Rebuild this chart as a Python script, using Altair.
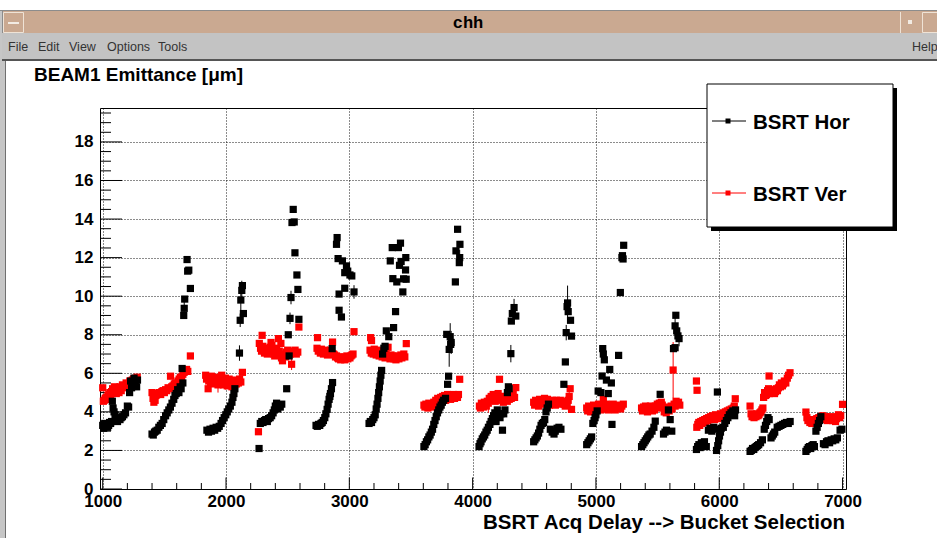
import altair as alt
import pandas as pd

# ---------------- data ----------------
# BSRT Hor (black), grouped by bunch train
hor_points = [
    # train 1
    (1000,3.3),(1008,3.15),(1016,3.4),(1024,3.25),(1032,3.35),(1040,3.2),(1048,3.3),(1056,3.45),(1064,3.4),(1072,3.5),
    (1078,4.55),(1084,4.2),(1092,4.0),(1100,3.85),(1120,3.5),(1130,3.65),(1140,3.6),(1150,3.7),(1160,3.75),(1172,3.85),
    (1185,3.95),(1200,4.3),(1210,4.25),(1218,5.0),(1226,5.6),(1234,5.25),(1244,5.45),(1254,5.75),(1264,5.5),(1275,5.3),(1282,5.65),
    # train 2
    (1400,2.85),(1410,2.8),(1420,2.95),(1430,3.0),(1442,3.05),(1455,3.2),(1468,3.3),(1482,3.4),(1495,3.6),(1510,3.8),
    (1523,3.95),(1536,4.1),(1549,4.25),(1562,4.45),(1576,4.65),(1586,4.85),(1596,4.95),(1608,5.15),(1618,5.0),(1628,5.3),
    (1636,5.2),(1644,6.25),(1650,5.5),(1657,9.0),(1661,9.37),(1665,9.85),(1684,11.9),(1689,11.3),(1698,11.35),(1711,10.4),
    # train 3
    (1845,3.05),(1858,2.95),(1870,3.1),(1882,3.0),(1895,3.15),(1908,3.05),(1920,3.2),(1932,3.15),(1945,3.25),(1960,3.4),
    (1972,3.55),(1985,3.7),(1998,3.85),(2010,4.0),(2022,4.15),(2035,4.3),(2048,4.5),(2056,4.75),(2064,4.95),(2072,5.2),
    (2109,7.05),(2115,8.75),(2120,9.8),(2128,10.3),(2133,10.55),(2141,9.1),
    # train 4
    (2268,2.1),(2278,3.4),(2290,3.5),(2300,3.45),(2312,3.55),(2322,3.6),(2335,3.5),(2345,3.65),(2358,3.7),(2370,3.8),
    (2382,3.95),(2392,4.1),(2400,4.3),(2410,4.45),(2420,4.15),(2430,4.35),(2440,4.25),(2452,4.4),(2492,5.2),(2505,8.0),
    (2512,6.9),(2519,8.85),(2527,9.93),(2535,13.82),(2545,14.5),(2553,13.85),(2559,12.25),(2575,11.1),(2583,10.35),(2591,8.8),
    # train 5
    (2730,3.3),(2740,3.25),(2750,3.35),(2760,3.3),(2770,3.4),(2780,3.45),(2790,3.55),(2801,3.7),(2810,3.9),(2820,4.13),
    (2828,4.4),(2836,4.65),(2842,4.8),(2847,4.95),(2855,5.2),(2864,5.52),(2861,7.28),(2896,12.69),(2901,13.04),(2909,11.95),
    (2917,9.27),(2917,10.11),(2936,8.92),(2944,11.83),(2963,11.22),(2963,10.41),(2977,11.57),(2987,11.3),(3005,11.1),(3020,11.05),(3038,10.22),
    # train 6
    (3160,3.4),(3170,3.5),(3180,3.45),(3190,3.6),(3200,3.7),(3210,3.85),(3218,4.15),(3225,4.4),(3232,4.7),(3238,5.0),
    (3244,5.3),(3250,5.6),(3256,5.9),(3262,6.15),(3270,7.0),(3280,7.3),(3290,7.4),(3300,8.2),(3320,7.9),(3332,11.83),
    (3348,12.52),(3353,10.91),(3359,8.37),(3375,9.2),(3385,10.74),(3398,12.52),(3407,11.6),(3415,12.75),(3420,11.8),(3434,10.22),
    (3440,10.9),(3456,11.36),(3458,12.0),(3461,10.88),
    # train 7
    (3605,2.2),(3615,2.3),(3625,2.45),(3635,2.55),(3645,2.7),(3655,2.8),(3665,2.95),(3675,3.1),(3685,3.35),(3695,3.55),
    (3705,3.75),(3715,3.95),(3725,4.1),(3735,4.25),(3745,4.35),(3755,4.5),(3765,4.6),(3780,4.7),(3797,5.43),(3805,5.85),
    (3790,8.02),(3810,7.24),(3818,7.9),(3822,7.5),(3826,7.6),(3860,10.74),(3865,12.35),(3878,13.47),(3892,11.74),(3895,12.0),(3897,12.69),
    # train 8
    (4052,2.2),(4060,2.35),(4068,2.45),(4078,2.6),(4088,2.7),(4098,2.8),(4108,2.95),(4118,3.05),(4128,3.2),(4140,3.35),
    (4150,3.5),(4160,3.65),(4170,3.8),(4180,3.95),(4190,3.5),(4200,4.1),(4210,3.85),(4222,3.7),(4230,3.9),(4242,3.05),
    (4252,3.9),(4262,4.1),(4282,5.0),(4290,5.3),(4296,5.2),(4310,7.02),(4314,8.71),(4322,9.1),(4336,9.41),(4350,8.97),
    # train 9
    (4495,2.45),(4505,2.55),(4515,2.65),(4525,2.75),(4535,2.9),(4545,3.1),(4555,3.3),(4565,3.4),(4575,3.45),(4585,3.6),
    (4595,4.0),(4605,4.2),(4615,4.4),(4630,3.1),(4645,2.95),(4660,2.85),(4670,3.0),(4685,3.15),(4700,3.2),(4716,3.1),
    (4740,5.43),(4752,6.59),(4759,8.11),(4766,9.46),(4770,9.65),(4775,9.2),(4794,8.75),(4802,7.93),
    # train 10
    (4925,2.3),(4935,2.4),(4945,2.5),(4955,2.6),(4965,2.7),(4975,3.4),(4985,3.55),(4993,3.7),(5000,3.85),(5010,4.05),
    (5018,5.08),(5040,5.0),(5050,5.86),(5055,7.28),(5060,7.0),(5068,6.7),(5085,5.65),(5100,4.95),(5112,6.2),(5125,5.5),
    (5130,3.35),(5184,6.93),(5198,10.19),(5211,12.0),(5215,12.1),(5220,11.93),(5225,12.64),
    # train 11
    (5370,2.2),(5380,2.3),(5390,2.4),(5400,2.5),(5410,2.6),(5420,2.7),(5430,2.8),(5440,2.85),(5455,3.0),(5470,3.2),
    (5481,3.52),(5521,4.91),(5548,2.85),(5560,2.95),(5572,3.05),(5588,4.1),(5602,3.6),(5615,3.0),(5629,7.28),(5642,7.33),
    (5642,8.46),(5648,9.01),(5655,8.2),(5665,7.94),(5674,7.8),
    # train 12
    (5815,2.05),(5825,2.2),(5835,2.3),(5845,2.15),(5855,2.4),(5865,2.3),(5880,2.45),(5895,2.2),(5912,3.05),(5925,3.15),
    (5940,3.0),(5955,3.2),(5969,3.1),(5978,2.0),(5985,5.03),(5988,2.25),(5995,2.5),(6002,2.75),(6010,2.95),(6016,3.15),
    (6033,3.2),(6045,3.4),(6058,3.55),(6070,3.7),(6082,3.85),(6095,3.95),(6110,4.05),(6125,3.8),(6132,4.1),
    # train 13
    (6250,1.95),(6260,2.0),(6270,2.1),(6280,2.05),(6290,2.15),(6300,2.2),(6310,2.25),(6320,2.3),(6335,2.4),(6350,2.55),
    (6365,3.1),(6375,3.3),(6385,3.5),(6395,3.7),(6405,3.6),(6420,2.65),(6430,2.75),(6440,2.85),(6450,2.95),(6470,3.2),
    (6485,3.25),(6500,3.3),(6515,3.35),(6530,3.4),(6545,3.45),(6560,3.4),(6575,3.5),
    # train 14
    (6703,1.95),(6713,2.05),(6722,2.15),(6732,2.2),(6742,2.1),(6752,2.25),(6762,2.3),(6772,2.2),(6784,3.0),(6794,3.2),
    (6804,3.4),(6814,3.55),(6824,3.75),(6845,2.35),(6858,2.3),(6870,2.45),(6882,2.5),(6895,2.4),(6908,2.55),(6920,2.5),
    (6932,2.6),(6945,2.55),(6958,2.65),(6980,3.05),(6995,3.1),
]

# BSRT Ver (red)
ver_points = [
    # train 1
    (1000,5.25),(1005,4.55),(1012,4.6),(1020,4.7),(1028,4.75),(1035,4.65),(1042,4.85),(1050,4.9),(1058,5.0),(1065,4.8),
    (1072,5.05),(1080,5.2),(1088,5.0),(1095,5.3),(1102,5.1),(1110,4.95),(1118,5.15),(1125,5.25),(1132,5.0),(1140,5.3),
    (1150,5.1),(1160,5.4),(1170,5.3),(1180,5.25),(1190,5.5),(1200,5.35),(1210,5.45),(1220,5.6),(1230,5.5),(1240,5.65),
    (1250,5.7),(1260,5.6),(1270,5.75),(1280,5.8),
    # train 2
    (1400,5.0),(1408,4.7),(1415,4.5),(1425,4.6),(1432,4.85),(1440,4.9),(1450,4.95),(1460,5.0),(1470,4.9),(1480,5.05),
    (1490,5.1),(1500,5.0),(1510,5.15),(1520,5.1),(1530,5.25),(1540,5.2),(1550,5.85),(1560,5.3),(1570,5.35),(1580,5.45),
    (1590,5.5),(1600,5.4),(1610,5.6),(1620,5.7),(1630,5.8),(1640,5.75),(1650,5.95),(1660,6.05),(1670,6.1),(1680,6.2),
    (1690,6.1),(1711,6.9),
    # train 3
    (1835,5.9),(1842,5.7),(1848,5.8),(1855,5.2),(1860,5.6),(1868,5.75),(1875,5.5),(1882,5.85),(1890,5.6),(1898,5.45),
    (1905,5.7),(1912,5.55),(1920,5.8),(1928,5.6),(1935,5.4),(1942,5.65),(1950,5.5),(1958,5.7),(1965,5.9),(1972,5.55),
    (1980,5.4),(1988,5.6),(1995,5.75),(2002,5.5),(2010,5.35),(2018,5.55),(2025,5.7),(2032,5.45),(2040,5.6),(2048,5.3),
    (2055,5.5),(2062,5.65),(2070,5.4),(2078,5.55),(2085,5.45),(2092,5.6),(2100,5.5),(2110,5.7),(2120,5.55),(2133,6.05),
    # train 4
    (2263,2.97),(2270,7.55),(2280,7.3),(2288,7.15),(2293,7.97),(2298,7.4),(2305,7.2),(2312,7.05),(2320,7.3),(2328,7.1),
    (2335,7.0),(2342,7.25),(2350,7.15),(2358,7.35),(2365,7.6),(2372,7.45),(2380,7.2),(2388,7.0),(2395,6.9),(2402,7.1),
    (2410,7.3),(2418,7.05),(2425,7.8),(2432,7.15),(2440,6.95),(2445,7.55),(2450,6.8),(2458,6.65),(2466,6.9),(2474,7.0),
    (2482,6.85),(2490,7.1),(2500,7.2),(2508,6.95),(2515,7.1),(2522,7.0),(2532,6.47),(2540,7.15),(2550,7.05),(2560,7.2),
    (2570,7.0),(2582,7.1),(2591,8.4),
    # train 5
    (2742,7.85),(2738,7.3),(2748,7.15),(2756,7.2),(2765,7.05),(2773,7.25),(2782,7.1),(2790,7.0),(2798,7.2),(2806,7.15),
    (2815,7.05),(2823,6.95),(2831,7.1),(2840,7.0),(2848,7.2),(2856,7.05),(2864,7.62),(2872,7.0),(2880,6.95),(2888,6.85),
    (2896,6.9),(2905,6.8),(2913,6.75),(2921,6.85),(2930,6.7),(2938,6.8),(2946,6.75),(2955,6.85),(2963,6.7),(2971,6.8),
    (2980,6.9),(2988,6.75),(2996,6.85),(3005,6.8),(3013,6.9),(3021,6.95),(3030,7.0),(3038,8.16),
    # train 6
    (3173,7.85),(3180,7.7),(3168,7.2),(3178,7.05),(3186,7.15),(3194,7.0),(3202,7.25),(3210,7.1),(3218,6.95),(3226,7.2),
    (3234,7.05),(3242,6.9),(3250,7.15),(3258,7.0),(3266,6.85),(3274,7.1),(3282,6.95),(3290,6.8),(3298,7.0),(3306,6.9),
    (3314,7.35),(3322,6.85),(3330,6.75),(3338,6.95),(3346,6.8),(3354,6.9),(3362,6.75),(3370,6.85),(3378,6.7),(3386,6.8),
    (3394,6.9),(3402,6.75),(3410,6.85),(3418,6.95),(3426,6.8),(3434,6.9),(3442,7.0),(3450,6.85),(3462,7.54),
    # train 7
    (3605,4.35),(3613,4.25),(3621,4.4),(3629,4.3),(3637,4.2),(3645,4.45),(3653,4.35),(3661,4.25),(3669,4.4),(3677,4.3),
    (3685,4.5),(3693,4.4),(3701,4.6),(3709,4.5),(3717,4.7),(3725,4.55),(3733,4.65),(3741,4.75),(3749,4.6),(3757,4.8),
    (3765,4.7),(3773,4.85),(3781,4.6),(3789,4.75),(3797,4.9),(3805,4.7),(3813,4.8),(3821,4.65),(3829,4.85),(3837,4.75),
    (3845,4.9),(3853,4.7),(3861,4.8),(3869,4.85),(3877,4.75),(3885,4.9),(3895,5.69),
    # train 8
    (4055,4.3),(4063,4.2),(4071,4.45),(4079,4.35),(4087,4.25),(4095,4.5),(4103,4.4),(4111,4.3),(4119,4.55),(4127,4.45),
    (4135,4.7),(4143,4.6),(4151,4.8),(4159,4.65),(4167,4.9),(4175,4.75),(4183,4.55),(4191,4.85),(4199,4.7),(4207,4.95),
    (4218,5.69),(4225,4.8),(4233,4.6),(4241,4.75),(4249,4.5),(4257,4.65),(4265,4.8),(4273,4.7),(4281,4.55),(4289,4.75),
    (4297,4.65),(4305,4.85),(4313,4.7),(4321,4.8),(4329,4.9),(4340,4.75),(4350,5.26),
    # train 9
    (4495,4.5),(4503,4.35),(4511,4.6),(4519,4.45),(4527,4.55),(4535,4.3),(4543,4.65),(4551,4.5),(4559,4.4),(4567,4.6),
    (4575,4.45),(4583,4.7),(4591,4.55),(4599,4.4),(4607,4.65),(4615,4.5),(4623,4.35),(4631,4.55),(4639,4.45),(4647,4.6),
    (4655,4.4),(4663,4.5),(4671,4.35),(4679,4.6),(4687,4.45),(4695,4.55),(4703,4.4),(4711,4.6),(4719,4.5),(4727,4.45),
    (4735,4.55),(4743,4.4),(4751,4.3),(4759,4.5),(4767,4.35),(4775,4.6),(4783,4.8),(4791,5.2),(4802,4.13),
    # train 10
    (4925,4.2),(4933,4.05),(4941,4.3),(4949,4.15),(4957,4.0),(4965,4.25),(4973,4.1),(4981,4.35),(4989,4.2),(4997,4.05),
    (5005,4.3),(5013,4.15),(5021,4.4),(5029,4.25),(5037,4.1),(5045,4.35),(5053,4.2),(5060,4.65),(5068,4.3),(5076,4.15),
    (5084,4.4),(5092,4.25),(5100,4.1),(5108,4.35),(5116,4.2),(5124,4.3),(5132,4.15),(5140,4.4),(5148,4.25),(5156,4.1),
    (5164,4.3),(5172,4.2),(5180,4.35),(5190,4.25),(5200,4.15),(5210,4.3),(5222,4.4),
    # train 11
    (5370,4.2),(5378,4.05),(5386,4.25),(5394,4.1),(5402,4.3),(5410,4.15),(5418,4.0),(5426,4.2),(5434,4.1),(5442,4.3),
    (5450,4.15),(5458,4.05),(5466,4.25),(5474,4.1),(5482,4.3),(5490,4.2),(5498,4.4),(5506,4.25),(5514,4.45),(5522,4.3),
    (5530,4.5),(5538,4.35),(5546,4.2),(5554,4.0),(5562,4.15),(5570,3.95),(5578,4.1),(5586,4.25),(5594,4.05),(5602,4.2),
    (5610,4.3),(5618,4.15),(5626,6.17),(5634,4.4),(5642,4.3),(5650,4.55),(5660,4.4),(5670,4.5),(5680,4.35),
    # train 12
    (5815,5.6),(5820,5.12),(5818,3.2),(5826,3.35),(5834,3.45),(5842,3.3),(5850,3.5),(5858,3.4),(5866,3.55),(5874,3.45),
    (5882,3.6),(5890,3.5),(5898,3.65),(5906,3.55),(5914,3.7),(5922,3.6),(5930,3.75),(5938,3.65),(5946,3.8),(5954,3.7),
    (5962,3.6),(5970,3.85),(5978,3.75),(5986,3.65),(5994,3.8),(6002,3.7),(6010,3.9),(6018,3.75),(6026,3.85),(6034,3.95),
    (6042,3.8),(6050,4.0),(6058,3.9),(6066,4.05),(6074,3.95),(6082,4.1),(6090,4.0),(6098,4.15),(6106,4.05),(6114,4.2),
    (6122,4.3),(6130,4.68),
    # train 13
    (6250,4.3),(6258,3.9),(6266,3.75),(6274,3.85),(6282,3.7),(6290,3.8),(6298,3.75),(6306,3.9),(6314,3.8),(6322,3.85),
    (6330,3.95),(6338,4.0),(6346,4.1),(6354,4.2),
    (6360,4.75),(6368,5.0),(6376,4.85),(6384,4.9),(6392,5.1),(6404,5.86),(6400,5.2),(6408,4.95),(6416,5.05),(6424,5.15),
    (6432,5.0),(6440,5.1),(6448,4.95),(6456,5.05),(6464,5.2),(6472,5.1),(6480,5.25),(6488,5.4),(6496,5.3),(6504,5.5),
    (6512,5.35),(6520,5.45),(6528,5.6),(6540,5.5),(6552,5.75),(6562,5.9),(6574,6.03),
    # train 14
    (6703,3.99),(6711,3.7),(6719,3.55),(6727,3.6),(6735,3.45),(6743,3.5),(6751,3.4),(6759,3.55),(6767,3.45),(6775,3.6),
    (6783,3.5),(6791,3.65),(6799,3.55),(6807,3.7),(6815,3.6),(6823,3.75),(6831,3.65),(6839,3.8),(6847,3.7),(6855,3.6),
    (6863,3.75),(6871,3.65),(6879,3.55),(6887,3.7),(6895,3.6),(6903,3.75),(6911,3.65),(6919,3.55),(6927,3.7),(6935,3.6),
    (6943,3.5),(6951,3.65),(6959,3.75),(6967,3.85),(6975,3.7),(6985,3.8),(7000,4.39),
]

# visible error bars: (x, y, half-width)
hor_errors = [
    (1661,9.37,0.35),(2109,7.05,0.4),(2115,8.75,0.35),(2120,9.8,0.6),(2128,10.3,0.5),(2519,8.85,0.3),
    (2527,9.93,0.35),(3038,10.22,0.35),(3810,7.24,0.9),(3818,7.9,0.7),(3826,7.6,0.6),(3895,12.0,0.4),
    (4310,7.02,0.45),(4336,9.41,0.45),(4770,9.65,0.9),(4759,8.11,0.4),(5642,8.46,0.5),(5674,7.8,0.4),
]
ver_errors = [
    (5626,6.17,1.45),(1935,5.4,0.4),(2532,6.47,0.3),(4127,4.45,0.5),(4783,4.8,0.4),(1998,5.5,0.35),
]

x_major = [1000, 2000, 3000, 4000, 5000, 6000, 7000]
x_minor = [1200, 1400, 1600, 1800, 2200, 2400, 2600, 2800, 3200, 3400, 3600, 3800,
           4200, 4400, 4600, 4800, 5200, 5400, 5600, 5800, 6200, 6400, 6600, 6800]
y_major = [0, 2, 4, 6, 8, 10, 12, 14, 16, 18]
y_minor = [0.5, 1, 1.5, 2.5, 3, 3.5, 4.5, 5, 5.5, 6.5, 7, 7.5, 8.5, 9, 9.5, 10.5, 11, 11.5,
           12.5, 13, 13.5, 14.5, 15, 15.5, 16.5, 17, 17.5, 18.5, 19, 19.5]

series_names = ["BSRT Hor", "BSRT Ver"]
series_colors = ["#000000", "#ff0000"]

# ---------------- layout ----------------
W, H = 746, 381
PL, PT = 100, 108
SANS = "Liberation Sans, Arial, Helvetica, sans-serif"

xs = alt.Scale(domain=[978, 7028], nice=False, zero=False)
ys = alt.Scale(domain=[0, 19.76], nice=False, zero=False)

x_axis = alt.Axis(values=x_major, format="d", title=None, ticks=False, domain=False,
                  grid=True, gridColor="#000000", gridDash=[1, 2], gridOpacity=0.9,
                  labelFont=SANS, labelFontSize=17, labelFontWeight="bold",
                  labelColor="#000000", labelPadding=4, labelOverlap=False, labelFlush=False)
y_axis = alt.Axis(values=y_major, format="d", title=None, ticks=False, domain=False,
                  grid=True, gridColor="#000000", gridDash=[1, 2], gridOpacity=0.9,
                  labelFont=SANS, labelFontSize=17, labelFontWeight="bold",
                  labelColor="#000000", labelPadding=7, labelOverlap=False, labelFlush=False)

X = lambda f="x": alt.X(f"{f}:Q", scale=xs, axis=x_axis)
Y = lambda f="y": alt.Y(f"{f}:Q", scale=ys, axis=y_axis)

pts = pd.concat([
    pd.DataFrame(ver_points, columns=["x", "y"]).assign(series="BSRT Ver", order=0),
    pd.DataFrame(hor_points, columns=["x", "y"]).assign(series="BSRT Hor", order=1),
], ignore_index=True)

errs = pd.concat([
    pd.DataFrame(ver_errors, columns=["x", "y", "e"]).assign(series="BSRT Ver"),
    pd.DataFrame(hor_errors, columns=["x", "y", "e"]).assign(series="BSRT Hor"),
], ignore_index=True)
errs["lo"] = errs["y"] - errs["e"]
errs["hi"] = errs["y"] + errs["e"]

color = alt.Color("series:N", scale=alt.Scale(domain=series_names, range=series_colors), legend=None)

dummy = alt.Data(values=[{"d": 0}])


def rel_x(px):
    return px - PL


def rel_y(py):
    return py - PT


def rect(x0, x1, y0, y1, fill=None, stroke=None, sw=1):
    kw = {}
    kw["fill"] = fill if fill else "transparent"
    if stroke:
        kw["stroke"] = stroke
        kw["strokeWidth"] = sw
    return alt.Chart(dummy).mark_rect(**kw).encode(
        x=alt.value(rel_x(x0)), x2=alt.value(rel_x(x1)),
        y=alt.value(rel_y(y0)), y2=alt.value(rel_y(y1)))


def hline(x0, x1, y, color, sw=1):
    return alt.Chart(dummy).mark_rule(color=color, strokeWidth=sw).encode(
        x=alt.value(rel_x(x0)), x2=alt.value(rel_x(x1)), y=alt.value(rel_y(y)))


def vline(x, y0, y1, color, sw=1):
    return alt.Chart(dummy).mark_rule(color=color, strokeWidth=sw).encode(
        x=alt.value(rel_x(x)), y=alt.value(rel_y(y0)), y2=alt.value(rel_y(y1)))


def label(txt, x, y, size, font=SANS, weight="normal", align="left", color="#000000"):
    return alt.Chart(dummy).mark_text(text=txt, font=font, fontSize=size, fontWeight=weight,
                                      align=align, baseline="alphabetic", color=color).encode(
        x=alt.value(rel_x(x)), y=alt.value(rel_y(y)))


# ---------------- window chrome ----------------
chrome = [
    rect(0, 6, 10, 538, fill="#c6c6c6"),
    vline(5.5, 60, 538, "#707070"),
    rect(2, 937, 11, 33, fill="#caa991"),
    hline(0, 937, 10.5, "#8c8c8c"),
    vline(2.5, 11, 33, "#8c8c8c"),
    rect(3.5, 23.5, 12.5, 32.5, stroke="#efe3d6"),
    hline(8, 19, 23, "#f2ebe3", 2),
    vline(900.5, 12, 33, "#efe3d6"),
    rect(908, 912, 20, 24, fill="#f2ebe3"),
    rect(922.5, 940, 12.5, 32.5, stroke="#efe3d6"),
    label("chh", 468, 27.5, 17, font="Liberation Mono, Courier New, monospace", weight="bold", align="center"),
    rect(2, 937, 33, 59, fill="#c3c3c3"),
    rect(2, 937, 59, 61, fill="#555555"),
    label("File", 8, 51, 12.5, color="#333333"),
    label("Edit", 38, 51, 12.5, color="#333333"),
    label("View", 69, 51, 12.5, color="#333333"),
    label("Options", 107, 51, 12.5, color="#333333"),
    label("Tools", 158, 51, 12.5, color="#333333"),
    label("Help", 912, 51, 12.5, color="#333333"),
]

# ---------------- axes ticks (ROOT style, inside) ----------------
ytick_major = alt.Chart(pd.DataFrame({"y": y_major})).mark_rule(color="#000000").encode(
    y=Y(), x=alt.value(0), x2=alt.value(22))
ytick_minor = alt.Chart(pd.DataFrame({"y": y_minor})).mark_rule(color="#000000").encode(
    y=Y(), x=alt.value(0), x2=alt.value(11))
xtick_major = alt.Chart(pd.DataFrame({"x": x_major})).mark_rule(color="#000000").encode(
    x=X(), y=alt.value(H), y2=alt.value(H - 11.5))
xtick_minor = alt.Chart(pd.DataFrame({"x": x_minor})).mark_rule(color="#000000").encode(
    x=X(), y=alt.value(H), y2=alt.value(H - 6))

# ---------------- data marks ----------------
err_layer = alt.Chart(errs).mark_rule(strokeWidth=1).encode(
    x=X(), y=Y("lo"), y2=alt.Y2("hi"), color=color)
pt_layer = alt.Chart(pts).mark_square(size=52, opacity=1).encode(
    x=X(), y=Y(), color=color, order=alt.Order("order:Q"))

# ---------------- legend box ----------------
legend = [
    rect(711, 897, 88, 231, fill="#000000"),
    rect(707, 893, 84, 227, fill="#ffffff", stroke="#000000"),
    hline(712, 746, 121, "#000000"),
    rect(725.5, 730.5, 118.5, 123.5, fill="#000000"),
    label("BSRT Hor", 753, 129, 20.5, weight="bold"),
    hline(712, 746, 193, "#ff0000"),
    rect(725.5, 730.5, 190.5, 195.5, fill="#ff0000"),
    label("BSRT Ver", 753, 200.5, 20.5, weight="bold"),
]

titles = [
    label("BEAM1 Emittance [\u03bcm]", 34, 80.5, 19, weight="bold"),
    label("BSRT Acq Delay --> Bucket Selection", 845, 529, 20.5, weight="bold", align="right"),
]

chart = alt.layer(
    *chrome,
    ytick_minor, ytick_major, xtick_minor, xtick_major,
    err_layer, pt_layer,
    *legend, *titles,
).properties(
    width=W, height=H,
    padding={"left": PL, "top": PT, "right": 937 - PL - W, "bottom": 538 - PT - H},
    autosize=alt.AutoSizeParams(type="none"),
    background="#ffffff",
).configure_view(stroke="#000000", strokeWidth=1)

chart.save("out.html", embed_options={"renderer": "svg", "actions": False})
